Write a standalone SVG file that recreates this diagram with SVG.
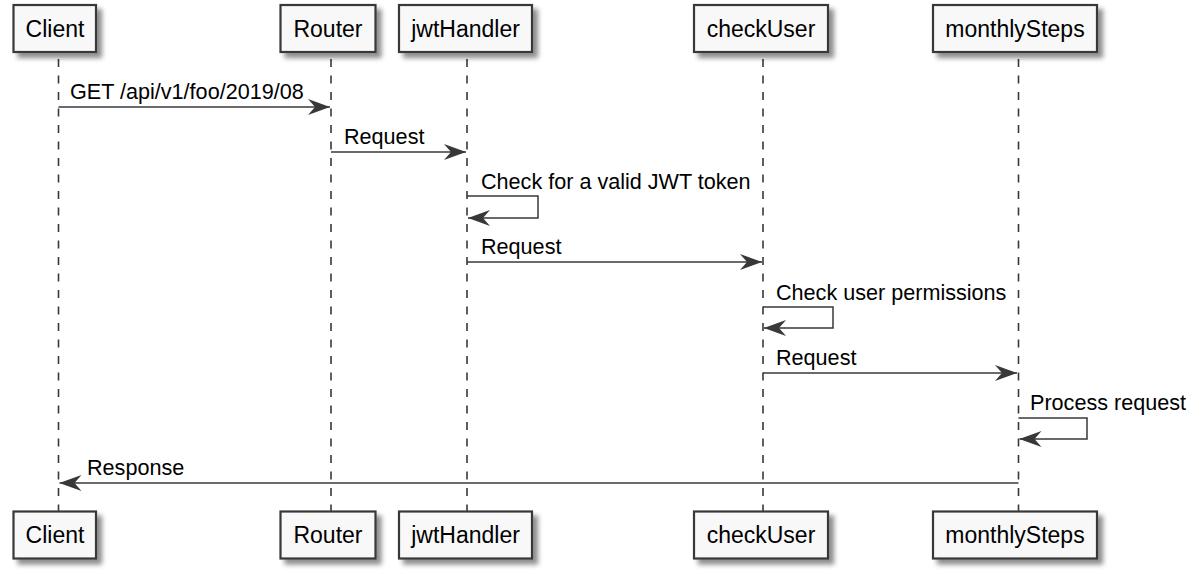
<svg xmlns="http://www.w3.org/2000/svg" width="1204" height="574" viewBox="0 0 1204 574">
<style>
.box{fill:#F8F8F8;stroke:#383838;stroke-width:2.2;filter:url(#sh)}
.ptext{font-family:"Liberation Sans",Arial,sans-serif;font-size:23px;fill:#000;text-anchor:middle}
.mtext{font-family:"Liberation Sans",Arial,sans-serif;font-size:21.6px;fill:#000}
.life{stroke:#383838;stroke-width:1.6;stroke-dasharray:8,8.5;fill:none}
.msg{stroke:#383838;stroke-width:1.5;fill:none;marker-end:url(#ah)}
</style>
<defs>
<filter id="sh" x="-20%" y="-20%" width="150%" height="160%">
<feGaussianBlur in="SourceAlpha" stdDeviation="2.5"/>
<feOffset dx="5" dy="5" result="b"/>
<feComponentTransfer><feFuncA type="linear" slope="0.45"/></feComponentTransfer>
<feMerge><feMergeNode/><feMergeNode in="SourceGraphic"/></feMerge>
</filter>
<marker id="ah" markerUnits="userSpaceOnUse" viewBox="0 0 22 16" refX="22" refY="8" markerWidth="22" markerHeight="16" orient="auto">
<path d="M0,0 L22,8 L0,16 L7,8 Z" fill="#383838"/>
</marker>
</defs>
<g id="lifelines">
<line class="life" x1="58.5" y1="59" x2="58.5" y2="511"/>
<line class="life" x1="331" y1="59" x2="331" y2="511"/>
<line class="life" x1="467" y1="59" x2="467" y2="511"/>
<line class="life" x1="763" y1="59" x2="763" y2="511"/>
<line class="life" x1="1018.5" y1="59" x2="1018.5" y2="511"/>
</g>
<g id="Client">
<rect class="box" x="13.5" y="5" width="82.5" height="47"/>
<text class="ptext" x="55" y="37">Client</text>
<rect class="box" x="13.5" y="511.5" width="82.5" height="47"/>
<text class="ptext" x="55" y="543">Client</text>
</g>
<g id="Router">
<rect class="box" x="280.5" y="5" width="95" height="47"/>
<text class="ptext" x="328" y="37">Router</text>
<rect class="box" x="280.5" y="511.5" width="95" height="47"/>
<text class="ptext" x="328" y="543">Router</text>
</g>
<g id="jwtHandler">
<rect class="box" x="399" y="5" width="133" height="47"/>
<text class="ptext" x="465.5" y="37">jwtHandler</text>
<rect class="box" x="399" y="511.5" width="133" height="47"/>
<text class="ptext" x="465.5" y="543">jwtHandler</text>
</g>
<g id="checkUser">
<rect class="box" x="694" y="5" width="134" height="47"/>
<text class="ptext" x="761" y="37">checkUser</text>
<rect class="box" x="694" y="511.5" width="134" height="47"/>
<text class="ptext" x="761" y="543">checkUser</text>
</g>
<g id="monthlySteps">
<rect class="box" x="933" y="5" width="164" height="47"/>
<text class="ptext" x="1015" y="37">monthlySteps</text>
<rect class="box" x="933" y="511.5" width="164" height="47"/>
<text class="ptext" x="1015" y="543">monthlySteps</text>
</g>
<g id="connectors">
<path class="msg" d="M58.5,107 H330"/>
<text class="mtext" x="70" y="99">GET /api/v1/foo/2019/08</text>
<path class="msg" d="M331,152 H466"/>
<text class="mtext" x="344" y="144">Request</text>
<path class="msg" d="M467,196 H538 V218 H468"/>
<text class="mtext" x="481" y="189">Check for a valid JWT token</text>
<path class="msg" d="M467,262 H762"/>
<text class="mtext" x="481" y="254">Request</text>
<path class="msg" d="M763,307 H833 V328 H764"/>
<text class="mtext" x="776" y="300">Check user permissions</text>
<path class="msg" d="M763,373 H1017"/>
<text class="mtext" x="776" y="365">Request</text>
<path class="msg" d="M1018.5,418 H1087 V439 H1019.5"/>
<text class="mtext" x="1030" y="410">Process request</text>
<path class="msg" d="M1018.5,483 H59.5"/>
<text class="mtext" x="87" y="475">Response</text>
</g>
</svg>
